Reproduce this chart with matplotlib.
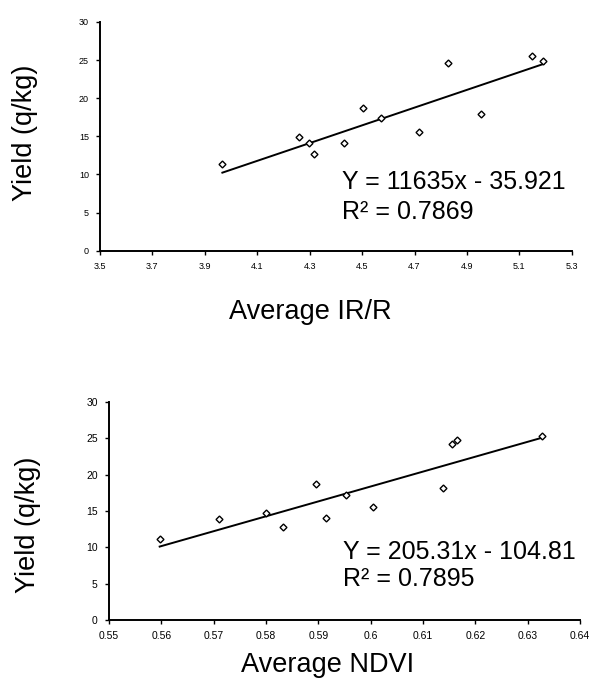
import numpy as np
import matplotlib
matplotlib.use("Agg")
import matplotlib.pyplot as plt

plt.rcParams['font.family'] = ['Liberation Sans', 'DejaVu Sans']

#-----------------------------------------------------------------#
# DATOS

# Panel superior: IR/R medio (eje en unidades de 1e-3)
irr_x = [3.967, 4.261, 4.299, 4.317, 4.432, 4.505, 4.571, 4.719, 4.826, 4.953, 5.148, 5.192]
irr_y = [11.35, 14.96, 14.18, 12.70, 14.10, 18.68, 17.37, 15.60, 24.65, 17.93, 25.50, 24.87]
irr_slope = 11635
irr_intercept = -35.921
irr_r2 = 0.7869
irr_ticks = [3.5, 3.7, 3.9, 4.1, 4.3, 4.5, 4.7, 4.9, 5.1, 5.3]

# Panel inferior: NDVI medio
ndvi_x = [0.5597, 0.5710, 0.5800, 0.5833, 0.5895, 0.5915, 0.5952, 0.6004, 0.6139, 0.6156, 0.6165, 0.6327]
ndvi_y = [11.14, 13.90, 14.76, 12.75, 18.70, 13.98, 17.20, 15.60, 18.20, 24.20, 24.76, 25.35]
ndvi_slope = 205.31
ndvi_intercept = -104.81
ndvi_r2 = 0.7895
ndvi_ticks = [0.55, 0.56, 0.57, 0.58, 0.59, 0.6, 0.61, 0.62, 0.63, 0.64]

yield_ticks = [0, 5, 10, 15, 20, 25, 30]

#-----------------------------------------------------------------#

def panel(ax, x, y, slope, intercept, scale, ticks, r2, xlabel, xl_pos, yl_pos, eq_pos, tick_fs):
    ax.plot(x, y, linestyle='none', marker='D', markersize=3.5,
            markerfacecolor='white', markeredgecolor='black', markeredgewidth=1.0, zorder=3)
    xs = np.array([min(x), max(x)])
    ax.plot(xs, slope * xs * scale + intercept, color='black', linewidth=1.4, zorder=2)

    ax.set_xlim(ticks[0], ticks[-1])
    ax.set_ylim(0, 30)
    ax.set_xticks(ticks)
    ax.set_xticklabels([('%g' % t) for t in ticks])
    ax.set_yticks(yield_ticks)
    for s in ['top', 'right']:
        ax.spines[s].set_visible(False)
    for s in ['left', 'bottom']:
        ax.spines[s].set_linewidth(1.4)
    ax.tick_params(direction='out', length=3, width=1.0, labelsize=tick_fs, pad=5)

    ax.text(xl_pos[0], xl_pos[1], xlabel, transform=ax.transAxes,
            ha='center', va='center', fontsize=19.5)
    ax.text(yl_pos[0], yl_pos[1], 'Yield (q/kg)', transform=ax.transAxes,
            ha='center', va='center', fontsize=19.5, rotation=90)

    sign = '-' if intercept < 0 else '+'
    ax.text(eq_pos[0], eq_pos[1], 'Y = %gx %s %g' % (slope, sign, abs(intercept)),
            transform=ax.transAxes, ha='left', va='center', fontsize=18)
    ax.text(eq_pos[0], eq_pos[2], 'R² = %.4f' % r2,
            transform=ax.transAxes, ha='left', va='center', fontsize=18)


fig = plt.figure(figsize=(5.95, 6.85), dpi=100)

ax1 = fig.add_axes([0.168, 0.634, 0.793, 0.334])
panel(ax1, irr_x, irr_y, irr_slope, irr_intercept, 1e-3, irr_ticks, irr_r2,
      'Average IR/R', (0.445, -0.266), (-0.159, 0.515), (0.513, 0.301, 0.170), 6.5)

ax2 = fig.add_axes([0.183, 0.095, 0.792, 0.318])
panel(ax2, ndvi_x, ndvi_y, ndvi_slope, ndvi_intercept, 1.0, ndvi_ticks, ndvi_r2,
      'Average NDVI', (0.463, -0.206), (-0.172, 0.436), (0.497, 0.312, 0.188), 7.5)

fig.savefig('out.png', dpi=100)
